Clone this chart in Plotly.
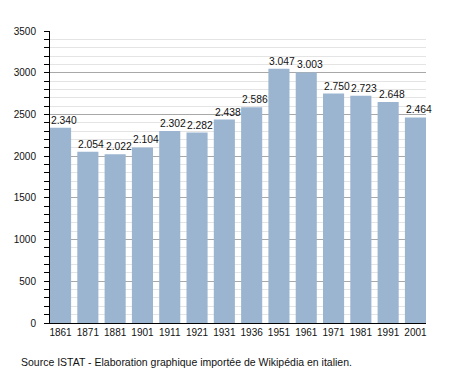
import plotly.graph_objects as go

years = ["1861", "1871", "1881", "1901", "1911", "1921", "1931", "1936",
         "1951", "1961", "1971", "1981", "1991", "2001"]
population = [2340, 2054, 2022, 2104, 2302, 2282, 2438, 2586,
              3047, 3003, 2750, 2723, 2648, 2464]
value_labels = [f"{v:,}".replace(",", ".") for v in population]
source_text = "Source ISTAT - Elaboration graphique importée de Wikipédia en italien."

FONT = "Liberation Sans, Arial, sans-serif"
BAR_COLOR = "#9bb5d1"
GAP = 0.227
PLOT_W = 376

fig = go.Figure()
fig.add_trace(go.Bar(x=years, y=population, marker=dict(color=BAR_COLOR, line=dict(width=0)),
                     hoverinfo="x+y"))

half_bar_px = (1 - GAP) * (PLOT_W / (14 - GAP)) / 2
for i, (v, lab) in enumerate(zip(population, value_labels)):
    fig.add_annotation(x=i, y=v, text=lab, showarrow=False, xanchor="left", yanchor="bottom",
                       xshift=-half_bar_px - 1, yshift=0,
                       font=dict(family=FONT, size=10.3, color="#111"))

fig.add_annotation(x=0, xref="paper", y=0, yref="paper", text=source_text, showarrow=False,
                   xanchor="left", yanchor="middle", xshift=-31, yshift=-39,
                   font=dict(family=FONT, size=10.5, color="#111"))

pad = GAP / 2
fig.update_layout(
    width=455, height=373, autosize=False,
    margin=dict(l=50, r=29, t=31, b=50, pad=0),
    paper_bgcolor="white", plot_bgcolor="white",
    bargap=GAP, showlegend=False,
    font=dict(family=FONT, size=10, color="#111"),
    xaxis=dict(type="category", range=[-0.5 + pad, 13.5 - pad], showline=True, linecolor="black",
               linewidth=1, ticks="", showgrid=False, tickfont=dict(size=10, color="#111"),
               fixedrange=True),
    yaxis=dict(range=[0, 3500], dtick=500, showline=True, linecolor="black", linewidth=1,
               ticks="outside", ticklen=5, tickcolor="black", showgrid=True, gridcolor="#a8a8a8",
               gridwidth=1, zeroline=False, tickfont=dict(size=10, color="#111"),
               ticklabelstandoff=6,
               minor=dict(dtick=100, showgrid=True, gridcolor="#e4e4e4", gridwidth=1,
                          ticks="outside", ticklen=5, tickcolor="black"),
               fixedrange=True),
)

fig.write_html("out.html", config={"displayModeBar": False},
               post_script="document.body.style.margin='0';")
